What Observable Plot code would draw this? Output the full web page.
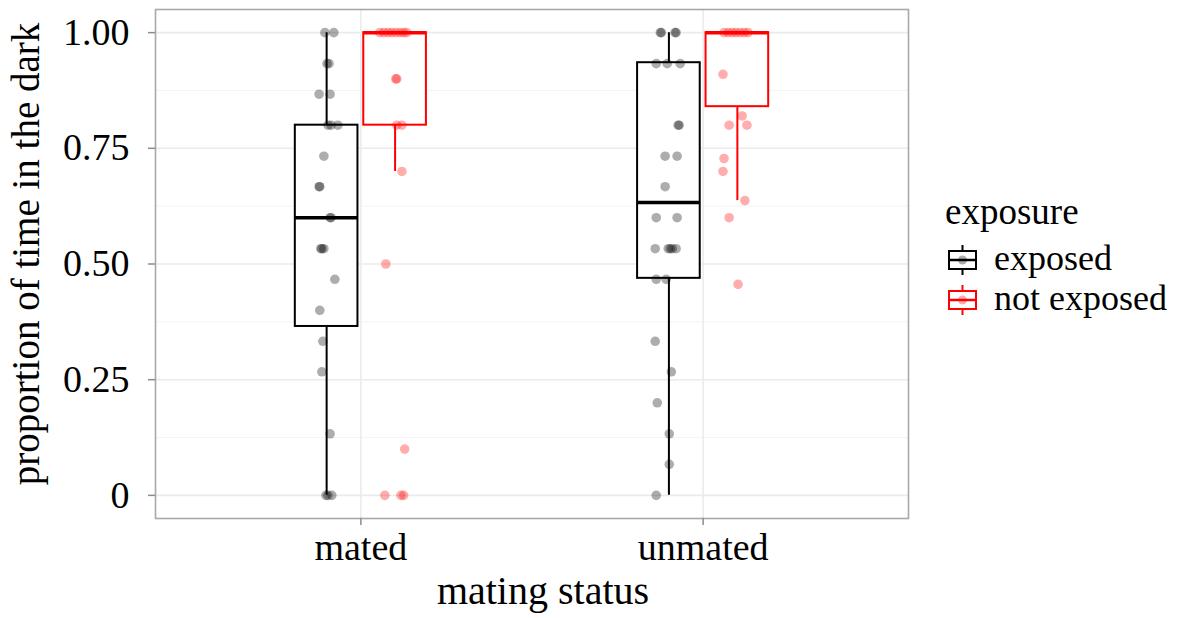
<!DOCTYPE html>
<html>
<head>
<meta charset="utf-8">
<script src="https://cdn.jsdelivr.net/npm/d3@7"></script>
<script src="https://cdn.jsdelivr.net/npm/@observablehq/plot@0.6"></script>
<style>
  body { margin: 0; background: #fff; }
  #wrap { position: relative; width: 1193px; height: 618px; font-family: "Liberation Serif", "Times New Roman", serif; }
  #legend { position: absolute; left: 0; top: 0; pointer-events: none; }
</style>
</head>
<body>
<div id="wrap"><div id="chart"></div></div>
<script>
// ---- categories & groups ----
const categories = ["mated", "unmated"];
const exposures = ["exposed", "not exposed"];
const exposureColors = ["#000000", "#ff0000"];
const yTicks = [0, 0.25, 0.5, 0.75, 1];
const yMinorTicks = [0.125, 0.375, 0.625, 0.875];

// ---- box statistics ----
const boxStatus   = ["mated", "mated", "unmated", "unmated"];
const boxExposure = ["exposed", "not exposed", "exposed", "not exposed"];
const whiskerLow  = [0.0, 0.70, 0.0, 0.637];
const lowerQ      = [0.365, 0.80, 0.469, 0.84];
const medianVal   = [0.60, 1.00, 0.633, 1.00];
const upperQ      = [0.80, 1.00, 0.935, 1.00];
const whiskerHigh = [1.0, 1.0, 1.0, 1.0];

// ---- raw observations (value, horizontal jitter in category units) ----
const matedExposedValues = [1, 1, 0.933, 0.933, 0.867, 0.867, 0.8, 0.8, 0.8, 0.733, 0.667, 0.667, 0.6, 0.6, 0.533, 0.533, 0.533, 0.467, 0.4, 0.333, 0.267, 0.133, 0, 0, 0];
const matedExposedJitter = [-0.005, 0.021, 0.001, 0.007, -0.022, 0.01, 0.004, 0.013, 0.033, -0.008, -0.022, -0.02, 0.01, 0.013, -0.017, -0.014, -0.008, 0.024, -0.02, -0.011, -0.014, 0.01, -0.002, 0.004, 0.015];

const matedNotExposedValues = [1, 1, 1, 1, 1, 1, 1, 1, 0.9, 0.9, 0.8, 0.8, 0.7, 0.5, 0.1, 0, 0, 0];
const matedNotExposedJitter = [-0.045, -0.033, -0.021, -0.01, 0.002, 0.014, 0.025, 0.034, 0.002, 0.005, 0.005, 0.02, 0.02, -0.027, 0.028, -0.03, 0.017, 0.025];

const unmatedExposedValues = [1, 1, 1, 1, 0.933, 0.933, 0.933, 0.8, 0.8, 0.733, 0.733, 0.667, 0.6, 0.6, 0.533, 0.533, 0.533, 0.533, 0.533, 0.467, 0.467, 0.333, 0.267, 0.2, 0.133, 0.067, 0];
const unmatedExposedJitter = [-0.025, -0.022, 0.018, 0.021, -0.037, -0.005, 0.033, 0.027, 0.030, -0.011, 0.024, -0.011, -0.037, 0.024, -0.04, -0.002, 0.004, 0.01, 0.021, -0.037, -0.008, -0.04, 0.007, -0.034, 0.001, 0.001, -0.037];

const unmatedNotExposedValues = [1, 1, 1, 1, 1, 1, 1, 0.91, 0.82, 0.8, 0.8, 0.728, 0.7, 0.637, 0.6, 0.456];
const unmatedNotExposedJitter = [-0.039, -0.027, -0.015, -0.004, 0.008, 0.02, 0.031, -0.042, 0.014, -0.024, 0.028, -0.039, -0.042, 0.022, -0.024, 0.002];

// ---- build tables ----
const dodge = {"exposed": -0.1, "not exposed": 0.1};
const halfBox = 0.0915;
const center = (status, exposure) => categories.indexOf(status) + 1 + dodge[exposure];

const boxes = boxStatus.map((s, i) => ({
  status: s, exposure: boxExposure[i], xc: center(s, boxExposure[i]),
  lo: whiskerLow[i], q1: lowerQ[i], med: medianVal[i], q3: upperQ[i], hi: whiskerHigh[i]
}));

const groupsRaw = [
  ["mated", "exposed", matedExposedValues, matedExposedJitter],
  ["mated", "not exposed", matedNotExposedValues, matedNotExposedJitter],
  ["unmated", "exposed", unmatedExposedValues, unmatedExposedJitter],
  ["unmated", "not exposed", unmatedNotExposedValues, unmatedNotExposedJitter]
];
const points = groupsRaw.flatMap(([s, e, vals, jit]) =>
  vals.map((v, i) => ({status: s, exposure: e, value: v, xp: center(s, e) + jit[i]})));

const font = "Liberation Serif, Times New Roman, serif";

const chart = Plot.plot({
  width: 1193,
  height: 618,
  marginLeft: 155,
  marginRight: 285,
  marginTop: 9,
  marginBottom: 100,
  style: {fontFamily: font, fontSize: "38px", color: "#000", background: "#fff", overflow: "visible"},
  x: {domain: [0.4, 2.6], axis: null},
  y: {domain: [-0.05, 1.05], axis: null},
  color: {domain: exposures, range: exposureColors},
  marks: [
    Plot.ruleY(yMinorTicks, {stroke: "#f4f4f4", strokeWidth: 1}),
    Plot.ruleY(yTicks, {stroke: "#ebebeb", strokeWidth: 1.6}),
    Plot.ruleX([1, 2], {stroke: "#ebebeb", strokeWidth: 1.6}),
    Plot.ruleX(boxes, {x: "xc", y1: "lo", y2: "hi", stroke: "exposure", strokeWidth: 2}),
    Plot.rect(boxes, {x1: d => d.xc - halfBox, x2: d => d.xc + halfBox, y1: "q1", y2: "q3", fill: "white", stroke: "exposure", strokeWidth: 2}),
    Plot.ruleY(boxes, {x1: d => d.xc - halfBox, x2: d => d.xc + halfBox, y: "med", stroke: "exposure", strokeWidth: 3.5}),
    Plot.dot(points, {x: "xp", y: "value", r: 4.8, fill: "exposure", fillOpacity: 0.32, stroke: null}),
    Plot.frame({stroke: "#a8a8a8", strokeWidth: 1.6}),
    Plot.axisY({ticks: yTicks, tickFormat: d => d === 0 ? "0" : d.toFixed(2), tickSize: 7, tickPadding: 19,
      stroke: "#8c8c8c", strokeWidth: 1.5, fill: "#000", fontSize: 38, label: null}),
    Plot.axisX({ticks: [1, 2], tickFormat: d => categories[d - 1], tickSize: 7, tickPadding: 8,
      stroke: "#8c8c8c", strokeWidth: 1.5, fill: "#000", fontSize: 38, label: null}),
    Plot.text(["proportion of time in the dark"], {frameAnchor: "left", rotate: -90, dx: -129, dy: -10,
      textAnchor: "middle", lineAnchor: "middle", fontSize: 39, fill: "#000"}),
    Plot.text(["mating status"], {frameAnchor: "bottom", dx: 11, dy: 85, textAnchor: "middle", lineAnchor: "bottom", fontSize: 40, fill: "#000"})
  ]
});
document.getElementById("chart").appendChild(chart);

// ---- legend (overlay to the right of the panel) ----
const ns = "http://www.w3.org/2000/svg";
const leg = document.createElementNS(ns, "svg");
leg.setAttribute("id", "legend");
leg.setAttribute("width", 1193);
leg.setAttribute("height", 618);
leg.style.fontFamily = font;
const title = document.createElementNS(ns, "text");
title.setAttribute("x", 945); title.setAttribute("y", 224);
title.setAttribute("font-size", 37); title.textContent = "exposure";
leg.appendChild(title);
const rows = [260, 300];
exposures.forEach((e, i) => {
  const cy = rows[i], col = exposureColors[i];
  const g = document.createElementNS(ns, "g");
  g.setAttribute("stroke", col); g.setAttribute("stroke-width", 2); g.setAttribute("fill", "white");
  const wl = document.createElementNS(ns, "line");
  wl.setAttribute("x1", 962.5); wl.setAttribute("x2", 962.5); wl.setAttribute("y1", cy - 15); wl.setAttribute("y2", cy + 15);
  const rc = document.createElementNS(ns, "rect");
  rc.setAttribute("x", 949); rc.setAttribute("y", cy - 9); rc.setAttribute("width", 27); rc.setAttribute("height", 18);
  const md = document.createElementNS(ns, "line");
  md.setAttribute("x1", 949); md.setAttribute("x2", 976); md.setAttribute("y1", cy); md.setAttribute("y2", cy);
  md.setAttribute("stroke-width", 2.5);
  const dt = document.createElementNS(ns, "circle");
  dt.setAttribute("cx", 962.5); dt.setAttribute("cy", cy); dt.setAttribute("r", 4.5);
  dt.setAttribute("fill", col); dt.setAttribute("fill-opacity", 0.32); dt.setAttribute("stroke", "none");
  g.appendChild(wl); g.appendChild(rc); g.appendChild(md); g.appendChild(dt);
  leg.appendChild(g);
  const t = document.createElementNS(ns, "text");
  t.setAttribute("x", 994); t.setAttribute("y", cy + 10);
  t.setAttribute("font-size", 36); t.textContent = e;
  leg.appendChild(t);
});
document.getElementById("wrap").appendChild(leg);
</script>
</body>
</html>
